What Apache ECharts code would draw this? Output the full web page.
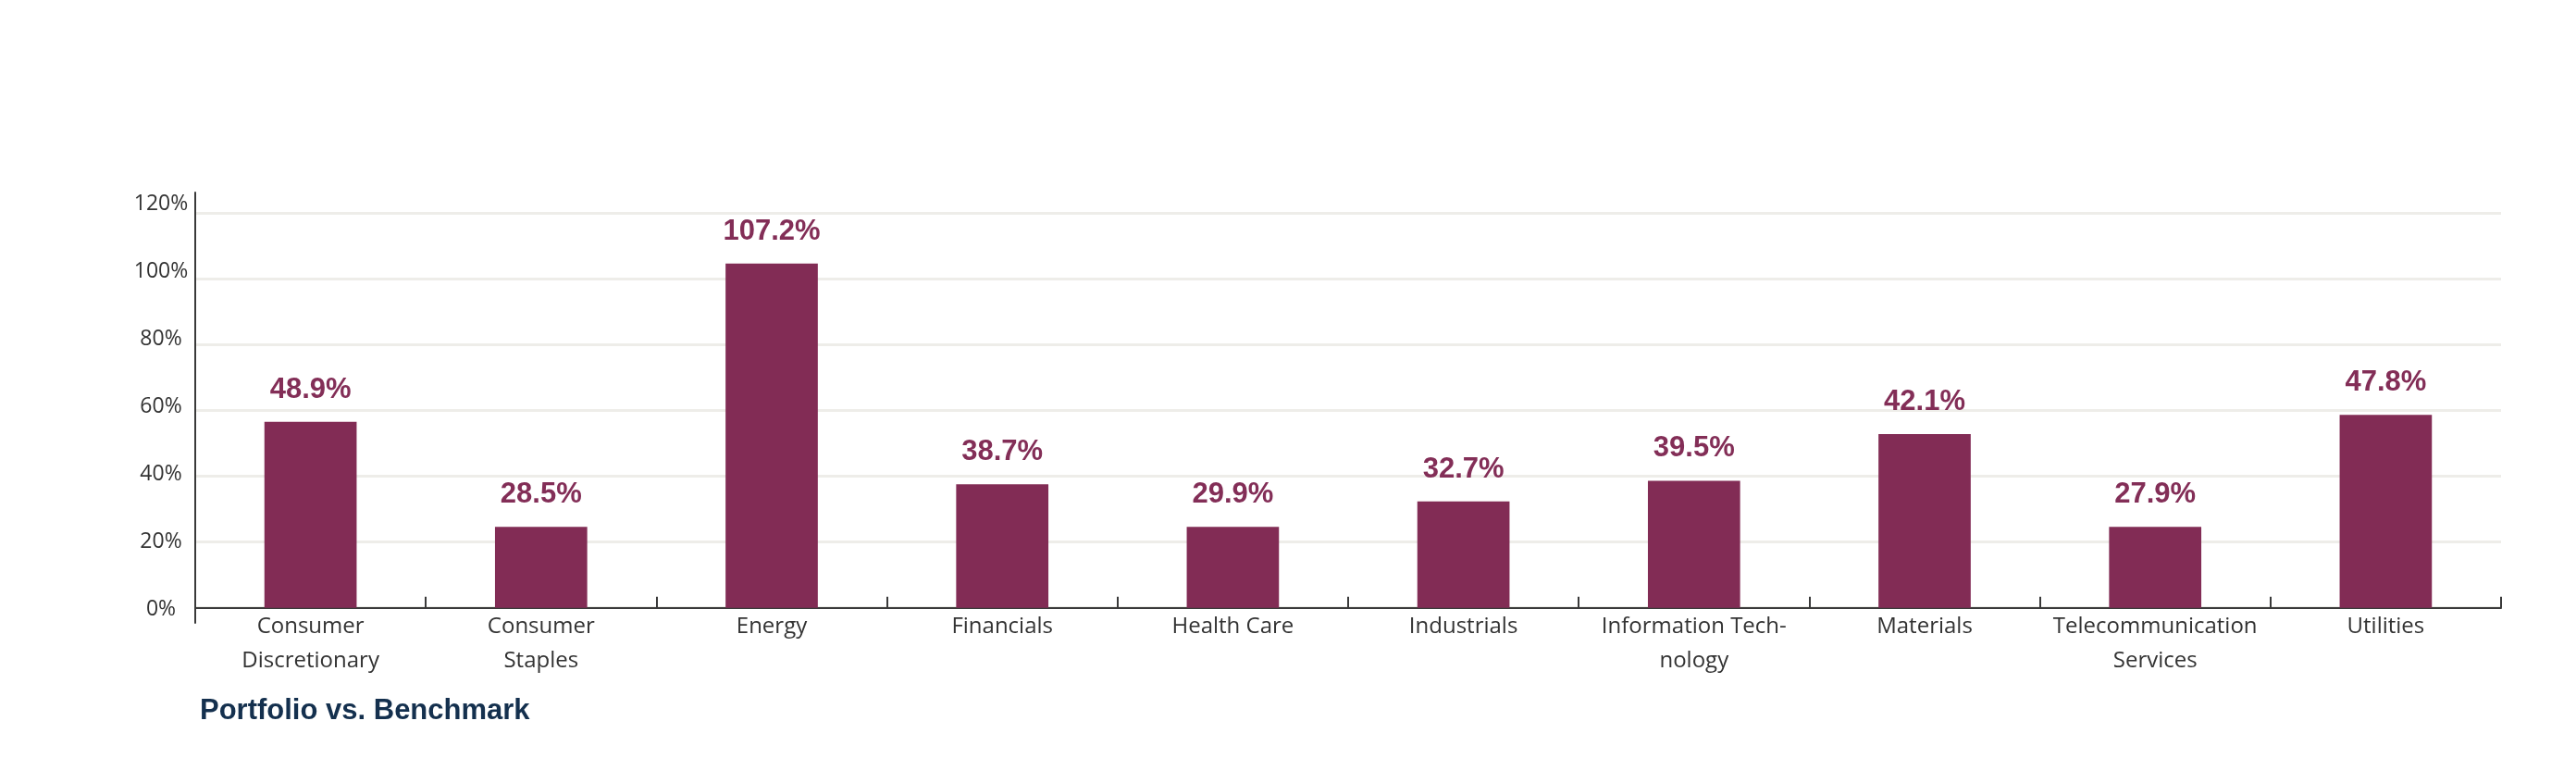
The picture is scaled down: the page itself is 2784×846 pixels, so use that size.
<!DOCTYPE html>
<html>
<head>
<meta charset="utf-8">
<script src="https://cdn.jsdelivr.net/npm/echarts@6/dist/echarts.min.js"></script>
<style>
html,body{margin:0;padding:0;background:#ffffff;}
#chart{width:2784px;height:846px;}
</style>
</head>
<body>
<div id="chart"></div>
<script>
var categories = ['Consumer Discretionary','Consumer Staples','Energy','Financials','Health Care','Industrials','Information Technology','Materials','Telecommunication Services','Utilities'];
var tickLabels = ['Consumer\nDiscretionary','Consumer\nStaples','Energy','Financials','Health Care','Industrials','Information Tech-\nnology','Materials','Telecommunication\nServices','Utilities'];
var barValues = [56.5, 24.6, 104.6, 37.5, 24.6, 32.3, 38.6, 52.8, 24.6, 58.6];
var labelTexts = ['48.9%','28.5%','107.2%','38.7%','29.9%','32.7%','39.5%','42.1%','27.9%','47.8%'];
var yTicks = [0, 20, 40, 60, 80, 100, 120];
var chartTitle = 'Portfolio vs. Benchmark';

var chart = echarts.init(document.getElementById('chart'), null, {renderer:'canvas'});
var axisColor = '#3a3a3a';
var textFont = '"Open Sans", "Liberation Sans", sans-serif';
chart.setOption({
  animation:false,
  backgroundColor:'#ffffff',
  title:{
    text:chartTitle,
    left:211, top:748,
    textStyle:{fontFamily:'"Liberation Sans", Arial, sans-serif', fontWeight:'bold', fontSize:31, color:'#14304e'}
  },
  grid:[
    {left:211, right:81, top:230, bottom:189.3, containLabel:false},
    {left:211, right:81, top:208, bottom:173, containLabel:false}
  ],
  xAxis:[
    {
      type:'category', gridIndex:0, data:categories,
      axisLine:{show:true, lineStyle:{color:axisColor, width:2}},
      axisTick:{show:true, inside:true, length:12, alignWithLabel:false, lineStyle:{color:axisColor, width:2}},
      axisLabel:{
        interval:0, margin:2,
        formatter:function(v, i){ return tickLabels[i]; },
        fontFamily:textFont, fontWeight:'normal', fontSize:24, lineHeight:37, color:'#333333'
      },
      splitLine:{show:false}
    },
    {type:'value', gridIndex:1, min:0, max:1, show:false}
  ],
  yAxis:[
    {
      type:'value', gridIndex:0, min:0, max:120, interval:20,
      axisLine:{show:false}, axisTick:{show:false}, axisLabel:{show:false},
      splitLine:{show:true, lineStyle:{color:'#eeede9', width:3}}
    },
    {
      type:'value', gridIndex:1, min:-4.11, max:123.29,
      axisLine:{show:true, onZero:false, lineStyle:{color:axisColor, width:2}},
      axisTick:{show:false},
      splitLine:{show:false},
      axisLabel:{
        show:true, customValues:yTicks, align:'center', margin:37,
        formatter:'{value}%',
        fontFamily:textFont, fontWeight:'normal', fontSize:23, color:'#333333'
      }
    }
  ],
  series:[
    {
      type:'bar', xAxisIndex:0, yAxisIndex:0,
      data:barValues, barWidth:'40%',
      itemStyle:{color:'#822c55'},
      label:{
        show:true, position:'top', distance:19,
        formatter:function(p){ return labelTexts[p.dataIndex]; },
        fontFamily:'"Liberation Sans", Arial, sans-serif', fontWeight:'bold', fontSize:31, color:'#832e57'
      }
    }
  ]
});
</script>
</body>
</html>
